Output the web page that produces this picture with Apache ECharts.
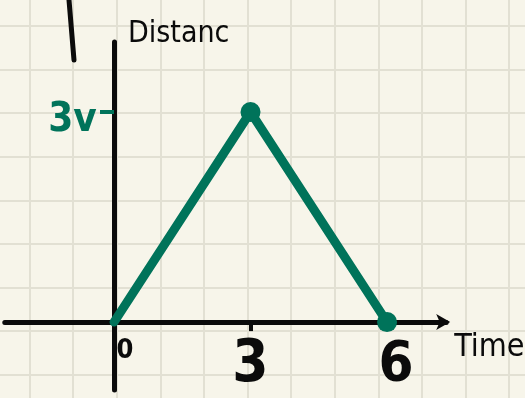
<!DOCTYPE html>
<html>
<head>
<meta charset="utf-8">
<script src="https://cdn.jsdelivr.net/npm/echarts@6/dist/echarts.min.js"></script>
<style>
  html, body { margin: 0; padding: 0; background: #f7f5ea; }
  #chart { width: 525px; height: 398px; }
</style>
</head>
<body>
<div id="chart"></div>
<script>
// Distance–time sketch: travel out for 3 units of time, then back.
const timeValues = [0, 3, 6];
const distanceValues = [0, 3, 0];
const timeTickLabels = ['0', '3', '6'];
const distanceTickValues = [3];
const distanceTickLabels = ['3v'];
const xAxisTitle = 'Time';
const yAxisTitle = 'Distanc';

const ink = '#0b0b0b';
const green = '#00735a';
const paperLine = '#e2e0d3';

const seriesData = timeValues.map((t, i) => ({
  value: [t, distanceValues[i]],
  symbolSize: i === 0 ? 0 : 20
}));

// per-label rich style keys for the time axis
const timeLabelStyle = ['z', 'm', 'e'];

const chart = echarts.init(document.getElementById('chart'), null, { renderer: 'canvas' });

chart.setOption({
  backgroundColor: '#f7f5ea',
  animation: false,
  grid: [
    // main plot
    { left: 4.8, top: 42, width: 441.4, height: 348, containLabel: false, outerBoundsMode: 'none' },
    // squared paper behind it
    { left: -14.1, top: -17.6, width: 566.8, height: 436, z: 0, containLabel: false, outerBoundsMode: 'none' }
  ],
  xAxis: [
    {
      type: 'value', gridIndex: 0, min: -2.4, max: 7.3, z: 5,
      axisLine: { onZero: true, lineStyle: { color: ink, width: 5, cap: 'round' },
                  symbol: ['none', 'arrow'], symbolSize: [12, 14], symbolOffset: [0, 4] },
      axisTick: { show: true, customValues: [3], length: 9, lineStyle: { color: ink, width: 4 } },
      axisLabel: {
        customValues: timeValues,
        margin: -53,
        formatter: (v) => {
          const i = timeValues.indexOf(v);
          return '{' + timeLabelStyle[i] + '|' + timeTickLabels[i] + '}';
        },
        rich: {
          z: { fontFamily: 'DejaVu Sans Condensed', fontWeight: 'bold', fontSize: 27, color: ink, padding: [0, 0, 0, 22] },
          m: { fontFamily: 'DejaVu Sans Condensed', fontWeight: 'bold', fontSize: 58, color: ink },
          e: { fontFamily: 'DejaVu Sans Condensed', fontWeight: 'bold', fontSize: 56, color: ink, padding: [0, 0, 0, 18] }
        }
      },
      splitLine: { show: false },
      name: xAxisTitle, nameLocation: 'end', nameGap: 8,
      nameTextStyle: { fontFamily: 'DejaVu Sans Condensed', fontSize: 32, color: ink,
                       align: 'left', verticalAlign: 'top', padding: [10, 0, 0, 0] }
    },
    {
      type: 'value', gridIndex: 1, min: 0, max: 13, interval: 1,
      axisLine: { show: false }, axisTick: { show: false }, axisLabel: { show: false },
      splitLine: { show: true, lineStyle: { color: paperLine, width: 2 } }
    }
  ],
  yAxis: [
    {
      type: 'value', gridIndex: 0, min: -0.97, max: 4.0, z: 5,
      axisLine: { onZero: true, lineStyle: { color: ink, width: 5, cap: 'round' } },
      axisTick: { show: true, customValues: distanceTickValues, length: 14,
                  lineStyle: { color: green, width: 4 } },
      axisLabel: {
        customValues: distanceTickValues,
        margin: -92,
        formatter: (v) => '{g|' + distanceTickLabels[distanceTickValues.indexOf(v)] + '}',
        rich: {
          g: { fontFamily: 'DejaVu Sans Condensed', fontWeight: 'bold', fontSize: 40, color: green,
               padding: [18, 0, 0, 0] }
        }
      },
      splitLine: { show: false },
      name: yAxisTitle, nameLocation: 'end', nameGap: 8,
      nameTextStyle: { fontFamily: 'DejaVu Sans Condensed', fontSize: 30, color: ink,
                       align: 'left', verticalAlign: 'middle', padding: [0, 0, 0, 14] }
    },
    {
      type: 'value', gridIndex: 1, min: 0, max: 10, interval: 1,
      axisLine: { show: false }, axisTick: { show: false }, axisLabel: { show: false },
      splitLine: { show: true, lineStyle: { color: paperLine, width: 2 } }
    }
  ],
  graphic: [
    { type: 'line', shape: { x1: 69, y1: 0, x2: 74, y2: 60 },
      style: { stroke: ink, lineWidth: 5, lineCap: 'round' }, z: 10 }
  ],
  series: [
    {
      type: 'line', xAxisIndex: 0, yAxisIndex: 0, z: 10,
      data: seriesData,
      symbol: 'circle',
      showSymbol: true,
      lineStyle: { color: green, width: 9, cap: 'round', join: 'round' },
      itemStyle: { color: green, borderWidth: 0 },
      emphasis: { disabled: true }
    }
  ]
});
</script>
</body>
</html>
